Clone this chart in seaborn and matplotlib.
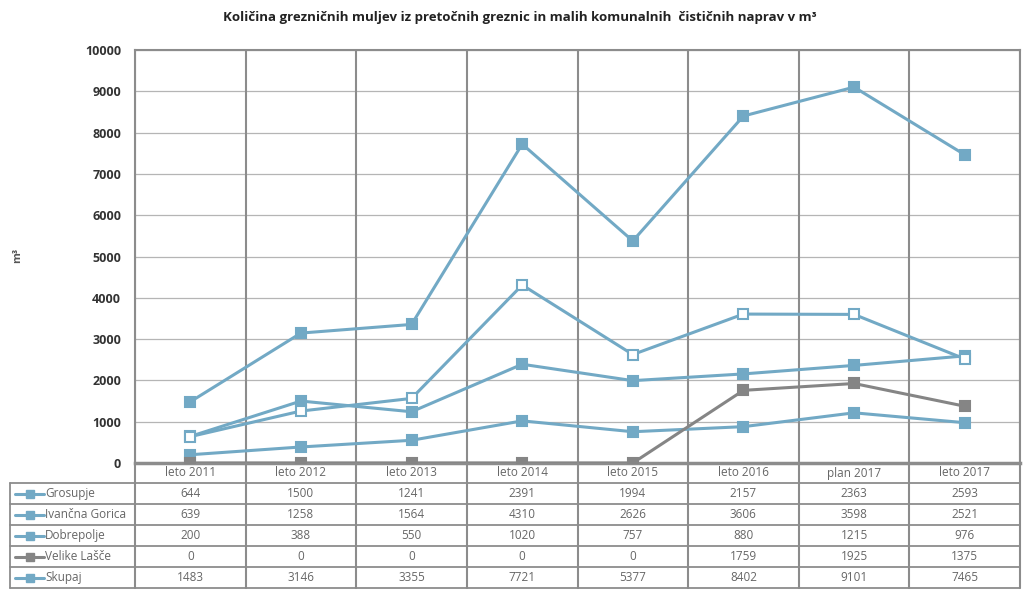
import pandas as pd
import matplotlib
matplotlib.use("Agg")
import matplotlib.pyplot as plt
import seaborn as sns
from matplotlib.lines import Line2D

# ------------------------------
# Data
# ------------------------------
categories = ["leto 2011", "leto 2012", "leto 2013", "leto 2014", "leto 2015",
              "leto 2016", "plan 2017", "leto 2017"]
grosupje = [644, 1500, 1241, 2391, 1994, 2157, 2363, 2593]
ivancna = [639, 1258, 1564, 4310, 2626, 3606, 3598, 2521]
dobrepolje = [200, 388, 550, 1020, 757, 880, 1215, 976]
velike = [0, 0, 0, 0, 0, 1759, 1925, 1375]
skupaj = [1483, 3146, 3355, 7721, 5377, 8402, 9101, 7465]

series_names = ["Grosupje", "Ivančna Gorica", "Dobrepolje", "Velike Lašče", "Skupaj"]
series_values = [grosupje, ivancna, dobrepolje, velike, skupaj]

BLUE = "#72a9c5"
GRAY = "#858585"
styles = {
    "Grosupje": dict(color=BLUE, mfc=BLUE),
    "Ivančna Gorica": dict(color=BLUE, mfc="white"),
    "Dobrepolje": dict(color=BLUE, mfc=BLUE),
    "Velike Lašče": dict(color=GRAY, mfc=GRAY),
    "Skupaj": dict(color=BLUE, mfc=BLUE),
}

rows = []
for name, vals in zip(series_names, series_values):
    for i, v in enumerate(vals):
        rows.append({"serija": name, "idx": i, "kat": categories[i], "m3": v})
df = pd.DataFrame(rows)

# ------------------------------
# Figure
# ------------------------------
sns.set_style("white")
plt.rcParams["font.family"] = ["Open Sans", "DejaVu Sans"]

W, H = 1024, 591
fig = plt.figure(figsize=(W / 100, H / 100), dpi=100)
fig.patch.set_facecolor("white")

x0, x1, ytop, ybot = 135, 1020, 50, 463
ax = fig.add_axes([x0 / W, (H - ybot) / H, (x1 - x0) / W, (ybot - ytop) / H])

for name in series_names:
    st = styles[name]
    sub = df[df["serija"] == name]
    sns.lineplot(data=sub, x="idx", y="m3", ax=ax, color=st["color"],
                 linewidth=2.2, marker="s", markersize=7,
                 markerfacecolor=st["mfc"], markeredgecolor=st["color"],
                 markeredgewidth=1.5, legend=False, zorder=3)

ax.set_xlim(-0.5, len(categories) - 0.5)
ax.set_ylim(0, 10000)
ax.set_yticks(range(0, 10001, 1000))
ax.set_yticklabels([str(v) for v in range(0, 10001, 1000)],
                   fontsize=9, fontweight="bold", color="#333333")
ax.set_xticks([])
ax.set_xlabel("")
ax.set_ylabel("")
ax.tick_params(axis="y", length=0, pad=10)

for v in range(1000, 10001, 1000):
    ax.axhline(v, color="#b5b5b5", linewidth=0.9, zorder=1)
for i in range(len(categories) + 1):
    ax.axvline(i - 0.5, color="#8c8c8c", linewidth=1.5, zorder=1)
for s in ax.spines.values():
    s.set_color("#8c8c8c")
    s.set_linewidth(1.5)
ax.spines["bottom"].set_linewidth(2.5)

fig.text(18 / W, 1 - 255 / H, "m³", rotation=90, ha="center", va="center",
         fontsize=8, fontweight="bold", color="#555555")

fig.text(520 / W, 1 - 18 / H,
         "Količina grezničnih muljev iz pretočnih greznic in malih komunalnih  čističnih naprav v m³",
         ha="center", va="center", fontsize=9.5, fontweight="bold", color="#222222")

# ------------------------------
# Data table under the chart
# ------------------------------
tax = fig.add_axes([0, 0, 1, 1], facecolor="none")
tax.set_xlim(0, W)
tax.set_ylim(H, 0)
tax.axis("off")

col_w = (x1 - x0) / len(categories)
row_top = 483
row_h = 21
lc = "#8c8c8c"

for i, cat in enumerate(categories):
    tax.text(x0 + col_w * (i + 0.5), 473, cat, ha="center", va="center",
             fontsize=8.5, color="#666666")

for r in range(len(series_names) + 1):
    y = row_top + r * row_h
    tax.plot([10, x1], [y, y], color=lc, linewidth=1.3)
tax.plot([10, 10], [row_top, row_top + row_h * len(series_names)], color=lc, linewidth=1.3)
for i in range(len(categories) + 1):
    tax.plot([x0 + col_w * i] * 2, [ybot, row_top + row_h * len(series_names)],
             color=lc, linewidth=1.5)

for r, (name, vals) in enumerate(zip(series_names, series_values)):
    yc = row_top + row_h * (r + 0.5)
    st = styles[name]
    tax.add_line(Line2D([15, 44], [yc, yc], color=st["color"], linewidth=2.2))
    tax.add_line(Line2D([29.5], [yc], marker="s", markersize=6, color=st["color"],
                        markerfacecolor=st["color"]))
    tax.text(45, yc, name, ha="left", va="center", fontsize=8.5, color="#666666")
    for i, v in enumerate(vals):
        tax.text(x0 + col_w * (i + 0.5), yc, str(v), ha="center", va="center",
                 fontsize=8.5, color="#666666")

fig.savefig("out.png", dpi=100, facecolor="white")
